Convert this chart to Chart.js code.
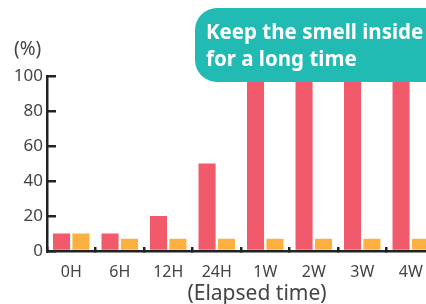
<!DOCTYPE html>
<html lang="en">
<head>
<meta charset="UTF-8">
<title>Elapsed time chart</title>
<script src="https://cdn.jsdelivr.net/npm/chart.js"></script>
<style>
  html, body { margin: 0; padding: 0; background: #fff; overflow: hidden; }
  #wrap { width: 426px; height: 304px; overflow: hidden; position: relative; }
  canvas { position: absolute; left: 0; top: 0; }
</style>
</head>
<body>
<div id="wrap">
  <canvas id="myChart" width="450" height="304"></canvas>
</div>
<script>
  // data
  const categories = ['0H', '6H', '12H', '24H', '1W', '2W', '3W', '4W'];
  const redValues = [10, 10, 20, 50, 100, 100, 100, 100];
  const orangeValues = [10, 7, 7, 7, 7, 7, 7, 7];
  const yTicks = [0, 20, 40, 60, 80, 100];

  const fontFamily = '"Noto Sans", "Open Sans", sans-serif';

  // extra texts and the teal bubble
  const extras = {
    id: 'extras',
    afterDraw(chart) {
      const c = chart.ctx;
      c.save();
      c.fillStyle = '#444';
      c.font = '19px ' + fontFamily;
      c.textAlign = 'left';
      c.textBaseline = 'middle';
      c.fillText('(%)', 14, 50);
      c.font = '21px ' + fontFamily;
      c.textAlign = 'center';
      c.fillText('(Elapsed time)', 257, 294);

      // bubble
      c.fillStyle = '#22bbb3';
      c.beginPath();
      c.roundRect(195, 8, 260, 74, 22);
      c.fill();
      c.fillStyle = '#fff';
      c.font = 'bold 20.5px ' + fontFamily;
      c.textAlign = 'left';
      c.fillText('Keep the smell inside', 206, 33);
      c.fillText('for a long time', 206, 60);
      c.restore();
    }
  };

  const ctx = document.getElementById('myChart').getContext('2d');
  const myChart = new Chart(ctx, {
    type: 'bar',
    data: {
      labels: categories,
      datasets: [
        { data: redValues, backgroundColor: '#f15a6b', categoryPercentage: 0.8, barPercentage: 0.88 },
        { data: orangeValues, backgroundColor: '#fbb040', categoryPercentage: 0.8, barPercentage: 0.88 }
      ]
    },
    options: {
      responsive: false,
      animation: false,
      layout: { padding: { top: 76, right: 15, left: 0, bottom: 0 } },
      plugins: { legend: { display: false }, tooltip: { enabled: false } },
      scales: {
        x: {
          grid: { offset: true, drawOnChartArea: false, tickLength: -4, color: '#222', lineWidth: 2.5 },
          border: { color: '#222', width: 2.5 },
          ticks: { color: '#444', font: { size: 16, family: fontFamily }, padding: 16 },
          afterFit(scale) { scale.height = 53; }
        },
        y: {
          min: 0, max: 100,
          afterBuildTicks(scale) { scale.ticks = yTicks.map(v => ({ value: v })); },
          grid: { drawOnChartArea: false, tickLength: -9, color: '#222', lineWidth: 2.5 },
          border: { color: '#222', width: 2.5 },
          ticks: { color: '#444', font: { size: 17, family: fontFamily }, padding: 13 },
          afterFit(scale) { scale.width = 47; }
        }
      }
    },
    plugins: [extras]
  });
</script>
</body>
</html>
